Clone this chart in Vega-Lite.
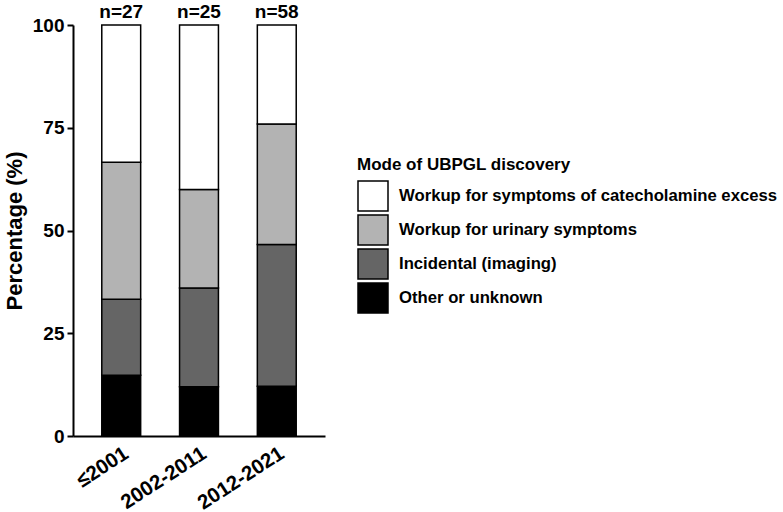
{
  "$schema": "https://vega.github.io/schema/vega-lite/v6.json",
  "autosize": "none",
  "width": 252,
  "height": 411,
  "padding": {"left": 73, "top": 25, "right": 458, "bottom": 76},
  "background": "white",
  "config": {
    "font": "Liberation Sans",
    "view": {"stroke": null}
  },
  "datasets": {
    "modes": [
      {"period": "≤2001", "mode": "Other or unknown", "rank": 1, "pct": 14.8},
      {"period": "≤2001", "mode": "Incidental (imaging)", "rank": 2, "pct": 18.5},
      {"period": "≤2001", "mode": "Workup for urinary symptoms", "rank": 3, "pct": 33.3},
      {"period": "≤2001", "mode": "Workup for symptoms of catecholamine excess", "rank": 4, "pct": 33.4},
      {"period": "2002-2011", "mode": "Other or unknown", "rank": 1, "pct": 12.0},
      {"period": "2002-2011", "mode": "Incidental (imaging)", "rank": 2, "pct": 24.0},
      {"period": "2002-2011", "mode": "Workup for urinary symptoms", "rank": 3, "pct": 24.0},
      {"period": "2002-2011", "mode": "Workup for symptoms of catecholamine excess", "rank": 4, "pct": 40.0},
      {"period": "2012-2021", "mode": "Other or unknown", "rank": 1, "pct": 12.1},
      {"period": "2012-2021", "mode": "Incidental (imaging)", "rank": 2, "pct": 34.5},
      {"period": "2012-2021", "mode": "Workup for urinary symptoms", "rank": 3, "pct": 29.3},
      {"period": "2012-2021", "mode": "Workup for symptoms of catecholamine excess", "rank": 4, "pct": 24.1}
    ],
    "counts": [
      {"period": "≤2001", "label": "n=27", "top": 100},
      {"period": "2002-2011", "label": "n=25", "top": 100},
      {"period": "2012-2021", "label": "n=58", "top": 100}
    ]
  },
  "layer": [
    {
      "data": {"name": "modes"},
      "mark": {"type": "bar", "stroke": "black", "strokeWidth": 1.5},
      "encoding": {
        "x": {
          "field": "period", "type": "nominal",
          "sort": ["≤2001", "2002-2011", "2012-2021"],
          "scale": {"paddingInner": 0.5, "paddingOuter": 0.37},
          "axis": {
            "title": null, "ticks": false, "labelAngle": -33,
            "labelFont": "Liberation Sans", "labelFontWeight": "bold", "labelFontSize": 20.5,
            "labelColor": "black", "labelPadding": 7, "labelDx": 5, "labelOverlap": false,
            "domainColor": "black", "domainWidth": 2
          }
        },
        "y": {
          "field": "pct", "type": "quantitative", "stack": "zero",
          "scale": {"domain": [0, 100], "nice": false},
          "axis": {
            "title": "Percentage (%)", "values": [0, 25, 50, 75, 100], "grid": false,
            "titleFont": "Liberation Sans", "titleFontWeight": "bold", "titleFontSize": 22,
            "titleColor": "black", "titlePadding": 6,
            "labelFont": "Liberation Sans", "labelFontWeight": "bold", "labelFontSize": 19,
            "labelColor": "black", "labelPadding": 3,
            "domainColor": "black", "domainWidth": 2,
            "tickColor": "black", "tickWidth": 2, "tickSize": 6
          }
        },
        "order": {"field": "rank", "type": "quantitative", "sort": "ascending"},
        "color": {
          "field": "mode", "type": "nominal",
          "scale": {
            "domain": ["Workup for symptoms of catecholamine excess", "Workup for urinary symptoms", "Incidental (imaging)", "Other or unknown"],
            "range": ["#ffffff", "#b3b3b3", "#656565", "#000000"]
          },
          "legend": {
            "title": "Mode of UBPGL discovery",
            "orient": "none", "legendX": 284, "legendY": 132,
            "titleFont": "Liberation Sans", "titleFontWeight": "bold", "titleFontSize": 17,
            "titleColor": "black", "titlePadding": 6, "titleLimit": 500,
            "labelFont": "Liberation Sans", "labelFontWeight": "bold", "labelFontSize": 16.7,
            "labelColor": "black", "labelOffset": 10, "labelLimit": 500,
            "symbolType": "square", "symbolSize": 900, "symbolStrokeColor": "black",
            "symbolStrokeWidth": 1.5, "symbolOpacity": 1, "rowPadding": -5
          }
        }
      }
    },
    {
      "data": {"name": "counts"},
      "mark": {"type": "text", "baseline": "alphabetic", "dy": -7, "fontSize": 19, "fontWeight": "bold", "font": "Liberation Sans", "color": "black"},
      "encoding": {
        "x": {"field": "period", "type": "nominal", "sort": ["≤2001", "2002-2011", "2012-2021"]},
        "y": {"field": "top", "type": "quantitative"},
        "text": {"field": "label"}
      }
    }
  ]
}
